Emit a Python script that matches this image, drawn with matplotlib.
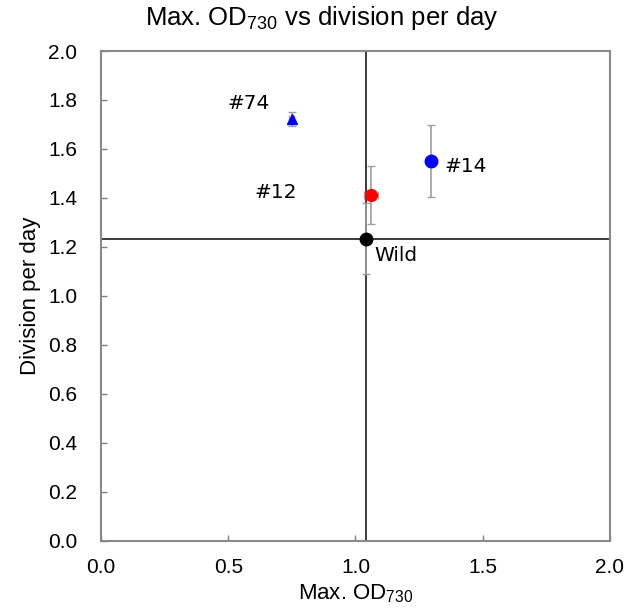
import matplotlib.pyplot as plt

plt.rcParams['font.family'] = ['Liberation Sans', 'DejaVu Sans']
plt.rcParams['mathtext.default'] = 'regular'

# strains: max OD730 and division rate (mean, error)
names = ['Wild', '#12', '#14', '#74']
od_max = [1.043, 1.061, 1.297, 0.750]
od_err = [0.010, 0.028, 0.015, 0.010]
div_day = [1.233, 1.412, 1.551, 1.722]
div_err = [0.145, 0.118, 0.148, 0.027]
colors = ['black', 'red', 'blue', 'blue']
markers = ['o', 'o', 'o', '^']
sizes = [9, 8.5, 9, 7.5]

# label offsets in points
offsets = [(6, -12), (-84, 2), (10, -4), (-46, 11)]

fig = plt.figure(figsize=(6.28, 6.13), dpi=100)
ax = fig.add_axes([0.1608, 0.1175, 0.8105, 0.7993])

# wild-type reference lines
ax.axvline(od_max[0], color='#3a3a3a', lw=1.4, zorder=1)
ax.axhline(div_day[0], color='#3a3a3a', lw=1.4, zorder=1)

for i in range(len(names)):
    ax.errorbar(od_max[i], div_day[i], xerr=od_err[i], yerr=div_err[i],
                fmt='none', ecolor='#a0a0a0', elinewidth=1.2, capsize=3,
                capthick=1.0, zorder=2)
    ax.plot(od_max[i], div_day[i], marker=markers[i], ms=sizes[i],
            color=colors[i], ls='none', zorder=3)
    ax.annotate(names[i], (od_max[i], div_day[i]), xytext=offsets[i],
                textcoords='offset points', fontsize=14.5,
                family='DejaVu Sans', va='center', ha='left')

ax.set_xlim(0, 2.0)
ax.set_ylim(0, 2.0)
ax.set_xticks([0, 0.5, 1.0, 1.5, 2.0])
ax.set_yticks([0, 0.2, 0.4, 0.6, 0.8, 1.0, 1.2, 1.4, 1.6, 1.8, 2.0])
ax.xaxis.set_major_formatter(plt.FormatStrFormatter('%.1f'))
ax.yaxis.set_major_formatter(plt.FormatStrFormatter('%.1f'))
ax.tick_params(direction='in', length=4, width=1, color='#808080',
               labelsize=15)
ax.tick_params(axis='y', pad=17)
ax.tick_params(axis='x', pad=12)

for s in ax.spines.values():
    s.set_color('#8a8a8a')
    s.set_linewidth(1.5)

ax.set_xlabel('Max. OD$_{730}$', fontsize=16, labelpad=4)
ax.set_ylabel('Division per day', fontsize=16, labelpad=5)
fig.text(0.513, 0.959, 'Max. OD$_{730}$ vs division per day', fontsize=18.5,
         ha='center', va='baseline')

fig.savefig('out.png', dpi=100)
